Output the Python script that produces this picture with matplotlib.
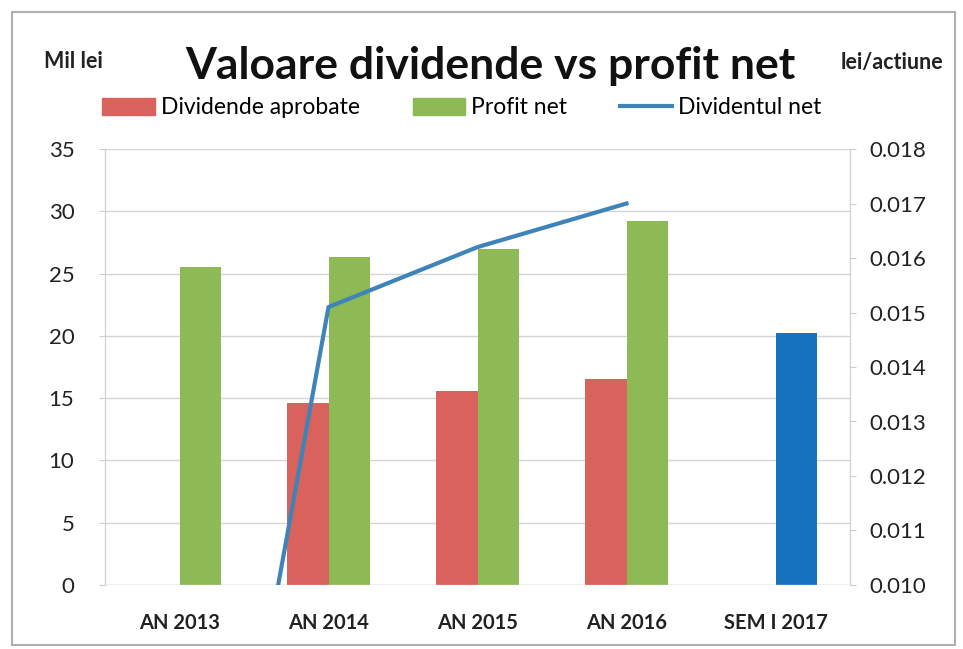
import numpy as np
import matplotlib.pyplot as plt
from matplotlib.lines import Line2D
from matplotlib.patches import Patch, Rectangle

plt.rcParams['font.family'] = ['Lato', 'DejaVu Sans']

# Date
categorii = ["AN 2013", "AN 2014", "AN 2015", "AN 2016", "SEM I 2017"]
dividende_aprobate = [0, 14.6, 15.6, 16.5, 0]
profit_net = [25.5, 26.3, 27.0, 29.2, 20.2]
dividendul_net = [0.0, 0.0151, 0.0162, 0.0170, np.nan]

culoare_rosu = "#D9625C"
culoare_verde = "#8DBA55"
culoare_albastru = "#1672BE"
culoare_linie = "#3F84B8"

fig = plt.figure(figsize=(9.63, 6.49), dpi=100)
ax = fig.add_axes([105 / 963, 1 - 585 / 649, 745 / 963, 436 / 649])
ax2 = ax.twinx()

x = np.arange(len(categorii))
w = 0.28
culori_profit = [culoare_verde] * 4 + [culoare_albastru]
ax.bar(x - w / 2, dividende_aprobate, w, color=culoare_rosu, zorder=2)
ax.bar(x + w / 2, profit_net, w, color=culori_profit, zorder=2)

ax2.plot(x, dividendul_net, color=culoare_linie, linewidth=3, zorder=3)
ax2.set_ylim(0.010, 0.018)
ax2.set_yticks(np.arange(0.010, 0.0181, 0.001))
ax2.set_yticklabels([f"{v:.3f}" for v in np.arange(0.010, 0.0181, 0.001)])

ax.set_xlim(-0.5, len(categorii) - 0.5)
ax.set_ylim(0, 35)
ax.set_yticks(range(0, 36, 5))
ax.set_xticks(x)
ax.set_xticklabels(categorii, fontsize=14.5, fontweight='bold', color="#222222")
ax.tick_params(axis='x', length=0, pad=20)
ax.tick_params(axis='y', labelsize=16, length=4, color="#cccccc", pad=18)
ax2.tick_params(axis='y', labelsize=16, length=4, color="#cccccc", pad=10)
for lbl in ax.get_yticklabels() + ax2.get_yticklabels():
    lbl.set_color("#222222")

ax.grid(axis='y', color="#d4d4d4", linewidth=1, zorder=0)
for a in (ax, ax2):
    for s in ['top', 'bottom']:
        a.spines[s].set_visible(False)
    a.spines['left'].set_color("#d0d0d0")
    a.spines['right'].set_color("#d0d0d0")
ax.axhline(0, color="#d0d0d0", linewidth=1)

fig.text(490 / 963, 1 - 66 / 649, "Valoare dividende vs profit net",
         fontsize=32, fontweight='bold', ha='center', va='center', color="#111111")
fig.text(73 / 963, 1 - 62 / 649, "Mil lei", fontsize=15.5, fontweight='bold',
         ha='center', va='center', color="#222222")
fig.text(892 / 963, 1 - 62 / 649, "lei/actiune", fontsize=15.5, fontweight='bold',
         ha='center', va='center', color="#222222")

handles = [
    Patch(color=culoare_rosu, label="Dividende aprobate"),
    Patch(color=culoare_verde, label="Profit net"),
    Line2D([0], [0], color=culoare_linie, linewidth=3, label="Dividentul net"),
]
fig.legend(handles=handles, loc='center', bbox_to_anchor=(462 / 963, 1 - 108 / 649),
           ncol=3, frameon=False, fontsize=16.5, handlelength=2.3, handleheight=0.7,
           handletextpad=0.25, columnspacing=2.3)

# rama graficului
fig.patches.append(Rectangle((12 / 963, 4 / 649), 943 / 963, 633 / 649,
                             transform=fig.transFigure, fill=False,
                             edgecolor="#b0b0b0", linewidth=1.5))

fig.savefig("out.png", dpi=100)
